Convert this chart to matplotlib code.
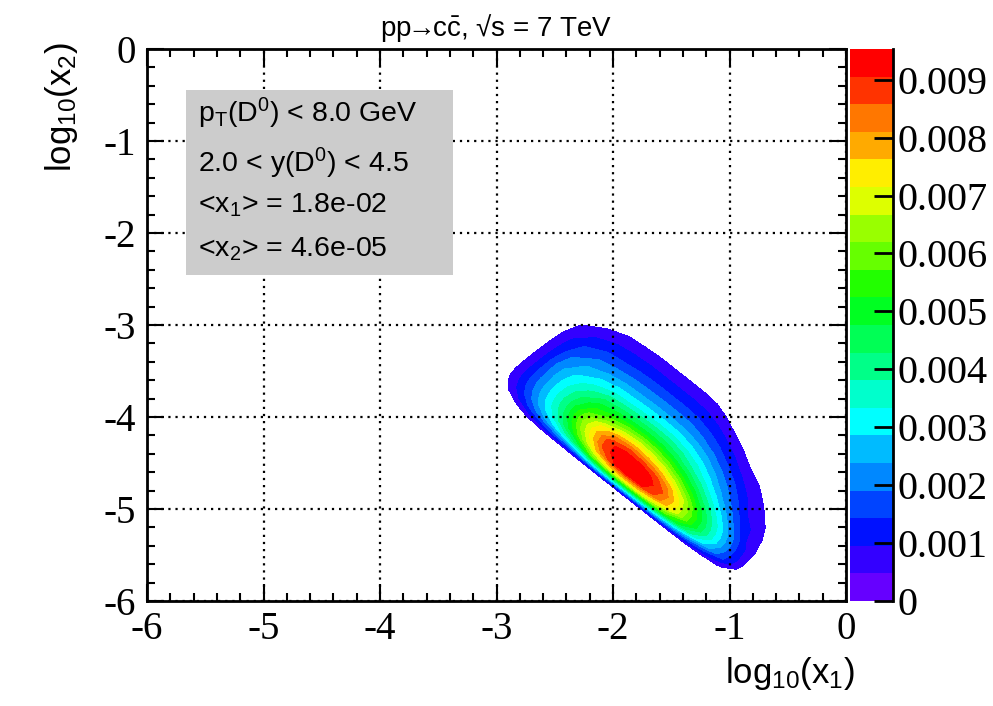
import numpy as np
import matplotlib
matplotlib.use("Agg")
import matplotlib.pyplot as plt
from matplotlib.colors import ListedColormap, BoundaryNorm
from matplotlib.cm import ScalarMappable
from matplotlib.patches import Rectangle
import matplotlib.ticker as mticker

plt.rcParams['font.family'] = ['Liberation Sans', 'DejaVu Sans']
plt.rcParams['mathtext.fontset'] = 'custom'
plt.rcParams['mathtext.rm'] = 'Liberation Sans'
plt.rcParams['mathtext.it'] = 'Liberation Sans:italic'
plt.rcParams['mathtext.bf'] = 'Liberation Sans:bold'
plt.rcParams['axes.unicode_minus'] = False

# ---------------- data ----------------
# grid in s = log10(x1)+log10(x2) (rows) and t = log10(x1)-log10(x2) (columns)
log_x1x2 = [-6.9, -6.77, -6.7, -6.6, -6.5, -6.4, -6.3, -6.2, -6.05, -5.9,
            -5.7, -5.5, -5.3, -5.1, -4.9, -4.75]
log_x1_over_x2 = [0.5, 0.75, 1.0, 1.25, 1.5, 1.75, 2.0, 2.25, 2.5, 2.75,
                  3.0, 3.25, 3.5, 3.75, 4.0, 4.25, 4.5, 4.75, 5.0]
# density values in units of 1e-3
density_1e3 = [
    [0, 0,    0,    0,    0,    0,    0,    0,    0,    0,    0,    0,    0,    0,    0,    0,    0,    0,    0],
    [0, 0,    0,    0.1,  0.2,  0.2,  0.2,  0.2,  0.2,  0.2,  0.2,  0.2,  0.2,  0.2,  0.2,  0.1,  0.1,  0,    0],
    [0, 0,    0.3,  0.8,  1.2,  1.6,  2.0,  2.6,  3.0,  3.1,  3.0,  2.8,  2.5,  2.1,  1.6,  1.1,  0.6,  0.1,  0],
    [0, 0.3,  1.0,  1.8,  2.6,  3.5,  4.6,  6.0,  6.8,  7.1,  7.0,  6.5,  5.7,  4.7,  3.5,  2.4,  1.4,  0.3,  0],
    [0, 0.6,  1.5,  2.5,  3.5,  4.8,  6.3,  7.9,  9.0,  9.3,  9.1,  8.4,  7.3,  5.8,  4.3,  2.9,  1.5,  0.4,  0],
    [0, 0.8,  1.8,  2.9,  4.0,  5.6,  7.2,  8.8,  9.4,  9.5,  9.3,  8.6,  7.3,  5.7,  4.2,  2.8,  1.4,  0.35, 0],
    [0, 0.9,  2.0,  3.1,  4.3,  6.0,  7.5,  8.9,  9.35, 9.3,  8.9,  8.0,  6.7,  5.2,  3.8,  2.5,  1.2,  0.35, 0],
    [0, 0.95, 2.1,  3.2,  4.4,  5.9,  7.2,  8.2,  8.5,  8.3,  7.8,  6.9,  5.7,  4.4,  3.2,  2.0,  0.9,  0.3,  0],
    [0, 0.95, 2.2,  3.2,  4.2,  5.2,  5.8,  6.4,  6.7,  6.5,  6.0,  5.2,  4.3,  3.3,  2.3,  1.3,  0.75, 0.15, 0],
    [0, 0.95, 2.2,  3.0,  3.7,  4.4,  4.7,  4.9,  5.0,  4.9,  4.5,  3.9,  3.2,  2.4,  1.6,  0.85, 0.5,  0,    0],
    [0, 0.9,  1.9,  2.5,  2.9,  3.2,  3.3,  3.4,  3.45, 3.4,  3.15, 2.75, 2.15, 1.55, 0.95, 0.55, 0.1,  0,    0],
    [0, 0.8,  1.5,  1.9,  2.1,  2.25, 2.3,  2.35, 2.35, 2.3,  2.1,  1.75, 1.3,  0.8,  0.5,  0.1,  0,    0,    0],
    [0, 0.55, 1.0,  1.3,  1.4,  1.5,  1.55, 1.55, 1.55, 1.5,  1.3,  1.0,  0.6,  0.25, 0,    0,    0,    0,    0],
    [0, 0.2,  0.5,  0.75, 0.85, 0.9,  0.9,  0.9,  0.9,  0.85, 0.65, 0.35, 0.1,  0,    0,    0,    0,    0,    0],
    [0, 0,    0.05, 0.25, 0.3,  0.35, 0.35, 0.35, 0.35, 0.3,  0.1,  0,    0,    0,    0,    0,    0,    0,    0],
    [0, 0,    0,    0,    0,    0,    0,    0,    0,    0,    0,    0,    0,    0,    0,    0,    0,    0,    0],
]
z_max = 0.00953
n_levels = 20
palette = ['#6600ff', '#3300ff', '#0011ff', '#0044ff', '#0088ff', '#00bbff',
           '#00ffff', '#00ffcc', '#00ff88', '#00ff55', '#00ff22', '#22ff00',
           '#66ff00', '#99ff00', '#ddff00', '#ffee00', '#ffaa00', '#ff7700',
           '#ff3300', '#ff0000']
cbar_ticks = [0, 0.001, 0.002, 0.003, 0.004, 0.005, 0.006, 0.007, 0.008, 0.009]
cbar_labels = ['0', '0.001', '0.002', '0.003', '0.004', '0.005', '0.006',
               '0.007', '0.008', '0.009']
axis_ticks = [-6, -5, -4, -3, -2, -1, 0]
info_lines = [r'p$_{\mathregular{T}}$(D$^{\mathregular{0}}$) < 8.0 GeV',
              r'2.0 < y(D$^{\mathregular{0}}$) < 4.5',
              r'<x$_{\mathregular{1}}$> = 1.8e-02',
              r'<x$_{\mathregular{2}}$> = 4.6e-05']
title = r'pp$\!\!\rightarrow\!\!$c$\mathregular{\bar{c}}$, √s = 7 TeV'
x_label = r'log$_{\mathregular{10}}$(x$_{\mathregular{1}}$)'
y_label = r'log$_{\mathregular{10}}$(x$_{\mathregular{2}}$)'

# ---------------- figure ----------------
W, H = 993, 706
fig = plt.figure(figsize=(W / 100, H / 100), dpi=100)
ax = fig.add_axes([147 / W, 1 - 601 / H, 699 / W, 552 / H])
cax = fig.add_axes([850 / W, 1 - 601 / H, 43 / W, 552 / H])

T, S = np.meshgrid(np.array(log_x1_over_x2), np.array(log_x1x2))
X1 = (S + T) / 2.0
X2 = (S - T) / 2.0
Z = np.array(density_1e3) * 1e-3

levels = np.linspace(0, z_max, n_levels + 1)
ax.contourf(X1, X2, Z, levels=levels[1:], colors=palette[1:], zorder=1)

ax.set_xlim(-6, 0)
ax.set_ylim(-6, 0)
ax.set_xticks(axis_ticks)
ax.set_yticks(axis_ticks)
ax.xaxis.set_minor_locator(mticker.MultipleLocator(0.2))
ax.yaxis.set_minor_locator(mticker.MultipleLocator(0.2))
ax.tick_params(which='both', direction='in', top=True, right=True,
               width=1.5, color='black')
ax.tick_params(which='major', length=12, labelsize=28,
               labelfontfamily='Liberation Serif')
ax.tick_params(axis='x', which='major', pad=7)
ax.tick_params(axis='y', which='major', pad=8)
ax.tick_params(which='minor', length=6)
for sp in ax.spines.values():
    sp.set_linewidth(2)
ax.set_axisbelow(False)
ax.grid(which='major', color='black', linestyle=(0, (1, 2.2)), linewidth=1.6)

# info box
ax.add_patch(Rectangle((0.0558, 0.5906), 0.382, 0.335, transform=ax.transAxes,
                       facecolor='#cccccc', edgecolor='none', zorder=3))
for line, yb in zip(info_lines, [0.8678, 0.7772, 0.7047, 0.6232]):
    ax.text(0.0734, yb, line, transform=ax.transAxes, fontsize=20.5,
            va='baseline', ha='left', zorder=4)

# labels
fig.text(855 / W, 1 - 683 / H, x_label, fontsize=25, ha='right', va='baseline')
fig.text(80 / W, 1 - 42 / H, y_label, fontsize=25, ha='right', va='top',
         rotation=90)
fig.text(496 / W, 1 - 36 / H, title, fontsize=20, ha='center', va='baseline')

# colour bar
cmap = ListedColormap(palette)
norm = BoundaryNorm(levels, n_levels)
cb = fig.colorbar(ScalarMappable(norm=norm, cmap=cmap), cax=cax, ticks=cbar_ticks)
cb.minorticks_off()
cb.outline.set_visible(False)
cax.set_yticklabels(cbar_labels)
cax.tick_params(direction='in', length=14, width=2, labelsize=29, pad=3,
                labelfontfamily='Liberation Serif', color='black')
cax.plot([1, 1], [0, 1], transform=cax.transAxes, color='black', lw=2,
         clip_on=False)

fig.savefig('out.png', dpi=100)
